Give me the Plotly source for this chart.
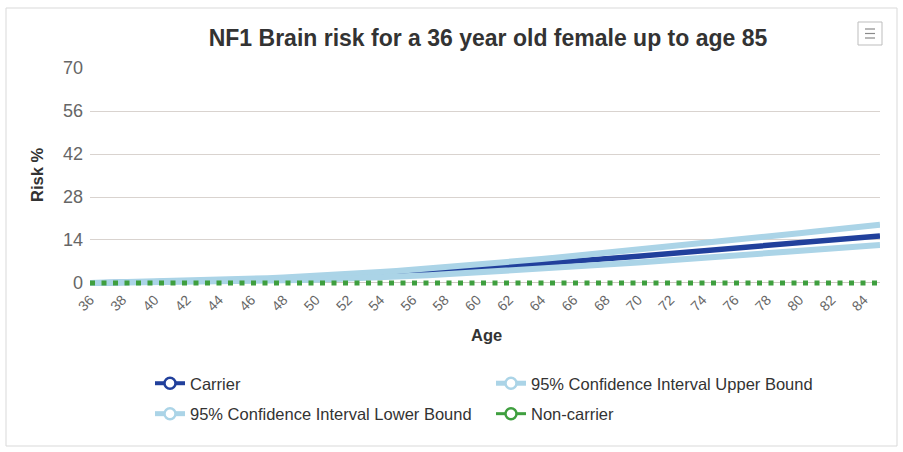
import plotly.graph_objects as go

# Age axis (years) and cumulative brain-tumour risk (%)
ages = list(range(36, 86))

carrier = [0.0, 0.07, 0.14, 0.22, 0.3, 0.39, 0.48, 0.58, 0.68, 0.8,
           0.93, 1.07, 1.22, 1.4, 1.6, 1.83, 2.08, 2.35, 2.65, 2.97,
           3.3, 3.65, 4.0, 4.35, 4.7, 5.05, 5.42, 5.8, 6.2, 6.6,
           7.0, 7.42, 7.85, 8.28, 8.72, 9.15, 9.58, 10.0, 10.42, 10.85,
           11.28, 11.7, 12.12, 12.55, 13.0, 13.45, 13.9, 14.35, 14.8, 15.3]

upper_ci = [0.0, 0.1, 0.2, 0.3, 0.42, 0.55, 0.7, 0.85, 1.0, 1.17,
            1.35, 1.55, 1.77, 2.0, 2.25, 2.55, 2.87, 3.2, 3.55, 3.9,
            4.28, 4.68, 5.1, 5.52, 5.95, 6.4, 6.85, 7.3, 7.78, 8.27,
            8.77, 9.27, 9.78, 10.3, 10.82, 11.35, 11.88, 12.4, 12.93, 13.47,
            14.0, 14.55, 15.1, 15.65, 16.2, 16.75, 17.3, 17.85, 18.4, 18.95]

lower_ci = [0.0, 0.04, 0.08, 0.13, 0.18, 0.24, 0.3, 0.37, 0.45, 0.53,
            0.62, 0.72, 0.83, 0.95, 1.08, 1.23, 1.4, 1.58, 1.78, 2.0,
            2.25, 2.52, 2.82, 3.1, 3.4, 3.7, 4.0, 4.32, 4.64, 4.97,
            5.3, 5.64, 5.98, 6.32, 6.67, 7.02, 7.37, 7.72, 8.07, 8.43,
            8.8, 9.17, 9.55, 9.93, 10.32, 10.72, 11.12, 11.52, 11.92, 12.35]

non_carrier = [0.0] * 50

y_ticks = [0, 14, 28, 42, 56, 70]
x_ticks = list(range(36, 85, 2))

TITLE = "NF1 Brain risk for a 36 year old female up to age 85"

C_CARRIER = "#21409c"
C_CI = "#abd4e7"
C_NON = "#3f9f3f"
FONT = "Liberation Sans, Arial, sans-serif"

W, H = 903, 452
# the y range dips slightly below zero so the zero-level lines are not clipped
Y_MIN = -1.63
L, R, T, B = 90, 23, 68, 164
PW, PH = W - L - R, H - T - B


def px_x(p):
    return (p - L) / PW


def px_y(p):
    return (H - B - p) / PH


fig = go.Figure()

# Plotted series in series order: carrier underneath, CI bounds over it,
# non-carrier on top (legend entries are added separately below)
fig.add_trace(go.Scatter(x=ages, y=carrier, mode="lines", showlegend=False,
                         line=dict(color=C_CARRIER, width=5.5), hoverinfo="skip"))
fig.add_trace(go.Scatter(x=ages, y=upper_ci, mode="lines", showlegend=False,
                         line=dict(color=C_CI, width=6), hoverinfo="skip"))
fig.add_trace(go.Scatter(x=ages, y=lower_ci, mode="lines", showlegend=False,
                         line=dict(color=C_CI, width=6), hoverinfo="skip"))
fig.add_trace(go.Scatter(x=ages, y=non_carrier, mode="lines", showlegend=False,
                         line=dict(color=C_NON, width=5, dash="5px,6.5px"),
                         hoverinfo="skip"))

# Legend entries: line with a hollow circle marker
legend_items = [
    ("Carrier", C_CARRIER, 4, "legend", "g1"),
    ("95% Confidence Interval Lower Bound", C_CI, 5, "legend", "g2"),
    ("95% Confidence Interval Upper Bound", C_CI, 5, "legend2", "g3"),
    ("Non-carrier", C_NON, 3, "legend2", "g4"),
]
for name, col, lw, leg, grp in legend_items:
    fig.add_trace(go.Scatter(
        x=[None], y=[None], mode="lines+markers", name=name, legend=leg,
        legendgroup=grp,
        line=dict(color=col, width=lw),
        marker=dict(symbol="circle", size=11, color="white",
                    line=dict(color=col, width=2.5)),
    ))

legend_common = dict(
    orientation="v", yanchor="top", xanchor="left",
    font=dict(family=FONT, size=16.5, color="#333333"),
    bgcolor="rgba(0,0,0,0)", tracegroupgap=6, itemclick=False,
)

# Outer frame and export-menu button
shapes = [
    dict(type="rect", xref="paper", yref="paper",
         x0=px_x(6), x1=px_x(897), y0=px_y(446), y1=px_y(8),
         line=dict(color="#d9d9d9", width=1), fillcolor="rgba(0,0,0,0)"),
    dict(type="rect", xref="paper", yref="paper",
         x0=px_x(858), x1=px_x(882), y0=px_y(45), y1=px_y(22),
         line=dict(color="#bdbdbd", width=1), fillcolor="white"),
]
for yy in (29, 33.5, 38):
    shapes.append(dict(type="line", xref="paper", yref="paper",
                       x0=px_x(865), x1=px_x(875), y0=px_y(yy), y1=px_y(yy),
                       line=dict(color="#8a8a8a", width=1.2)))

annotations = [
    dict(text="<b>Age</b>", xref="paper", yref="paper",
         x=px_x(486), y=px_y(335), showarrow=False,
         font=dict(family=FONT, size=16.5, color="#333333"),
         xanchor="center", yanchor="middle"),
    dict(text="<b>Risk %</b>", xref="paper", yref="paper",
         x=px_x(37), y=px_y(175), showarrow=False, textangle=-90,
         font=dict(family=FONT, size=16.5, color="#333333"),
         xanchor="center", yanchor="middle"),
]

fig.update_layout(
    width=W, height=H,
    margin=dict(l=L, r=R, t=T, b=B, pad=0),
    paper_bgcolor="white", plot_bgcolor="white",
    title=dict(text="<b>" + TITLE + "</b>", x=488 / W, y=1 - 38 / H,
               xref="container", yref="container",
               xanchor="center", yanchor="middle",
               font=dict(family=FONT, size=23, color="#333333")),
    xaxis=dict(range=[36, 85], tickmode="array", tickvals=x_ticks,
               ticktext=[str(v) for v in x_ticks], tickangle=-45,
               tickfont=dict(family=FONT, size=14, color="#666666"),
               showgrid=False, zeroline=False, showline=False, ticks="",
               ticklabelstandoff=0),
    yaxis=dict(range=[Y_MIN, 70], tickmode="array", tickvals=y_ticks,
               tickfont=dict(family=FONT, size=18, color="#666666"),
               showgrid=True, gridcolor="#d9d3cf", gridwidth=1,
               zeroline=True, zerolinecolor="#cfc8c3", zerolinewidth=1,
               showline=False, ticks="", ticklabelstandoff=6),
    legend=dict(x=px_x(150), y=px_y(366), **legend_common),
    legend2=dict(x=px_x(491), y=px_y(366), **legend_common),
    shapes=shapes,
    annotations=annotations,
    showlegend=True,
)

fig.write_html("out.html")
